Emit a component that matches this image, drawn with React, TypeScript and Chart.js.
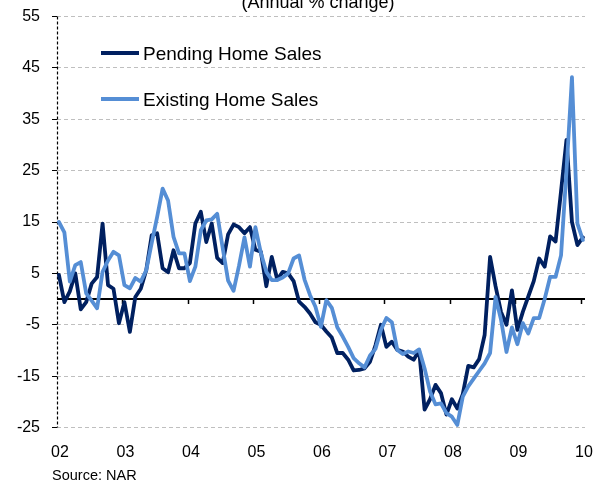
import React, { useEffect, useRef } from 'react';
import { Chart, registerables } from 'chart.js';

Chart.register(...registerables);

// Year tick labels (one tick every 12 months, starting Jan 2002)
const yearLabels = ['02', '03', '04', '05', '06', '07', '08', '09', '10'];
const yTickValues = [-25, -15, -5, 5, 15, 25, 35, 45, 55];

// Monthly annual % change, Jan 2002 .. Jan 2010
const pendingHomeSales = [
  4.7, -0.6, 1.5, 5, -2, -0.6, 3, 4.3, 14.7, 2.7, 2, -4.7,
  -0.6, -6.4, 0.4, 2, 5.6, 12.4, 12.8, 6, 5.2, 9.5, 6, 6,
  7, 14.7, 17, 11.1, 14.7, 8, 7, 12.6, 14.5, 14, 12.8, 14,
  9.6, 9.2, 2.5, 8.2, 3.8, 5.3, 5, 3.5, -0.5, -1.5, -2.8, -4.5,
  -5, -6.3, -7.5, -10.5, -10.5, -11.8, -13.9, -13.8, -13.5, -12.2, -9, -5,
  -9.3, -8.3, -9.9, -10.2, -11.2, -11.8, -10, -21.5, -19.5, -16.7, -18.3, -22.5,
  -19.5, -21.3, -18.5, -13, -13.3, -11.7, -7, 8.2, 2.5, -2.5, -5, 1.7,
  -6, -2.5, 0.5, 3.5, 7.9, 6.3, 12.2, 11.2, 21, 31, 15, 10.5,
  12,
];

const existingHomeSales = [
  15, 13, 3.4, 6.6, 7.2, 1.1, -0.3, -1.8, 5.3, 7.5, 9.2, 8.5,
  2.7, 2.1, 4.1, 3.4, 5.6, 10.9, 16, 21.5, 19.2, 12.1, 8.9, 8.9,
  3.5, 6.3, 13.4, 15.3, 15.5, 16.6, 10, 3.6, 1.6, 6.5, 12, 6.3,
  14, 9, 5.3, 3.7, 3.7, 4.2, 5, 7.9, 8.5, 3.8, 0.8, -1.5,
  -5.4, -0.2, -1.7, -5.5, -7.3, -9.3, -11.5, -12.5, -13.3, -11, -9.7, -6,
  -3.7, -4.5, -9.9, -10.7, -10.2, -10.5, -9.8, -13.5, -18, -20.5, -20.3, -22.2,
  -22.9, -24.5, -19, -17, -15.5, -14, -12.5, -10.5, 0.4, -4, -10.3, -5.5,
  -8.8, -4.7, -6.7, -3.7, -3.7, 0, 4.3, 4.3, 8.5, 25, 43.2, 14.7,
  11.5,
];

const seriesNames = ['Pending Home Sales', 'Existing Home Sales'];
const seriesColors = ['#002060', '#558ed5'];
const titleText = '(Annual % change)';
const sourceText = 'Source: NAR';

const FONT = '"Liberation Sans", Arial, sans-serif';
const MONTH_SHIFT = 0.35;

export default function App() {
  const ref = useRef<HTMLCanvasElement>(null);

  useEffect(() => {
    if (!ref.current) return;
    const toPoints = (arr: number[]) => arr.map((v, i) => ({ x: i + MONTH_SHIFT, y: v }));
    const yearTickValues = yearLabels.map((_, k) => k * 12);

    const overlay = {
      id: 'overlay',
      beforeDatasetsDraw(chart: any) {
        const { ctx, chartArea: a, scales } = chart;
        const x = scales.x;
        const y = scales.y;
        ctx.save();
        // dashed vertical axis
        ctx.strokeStyle = '#000';
        ctx.lineWidth = 1.2;
        ctx.setLineDash([3, 2]);
        ctx.beginPath();
        ctx.moveTo(a.left + 0.5, a.top);
        ctx.lineTo(a.left + 0.5, a.bottom);
        ctx.stroke();
        ctx.setLineDash([]);
        // zero line
        const y0 = Math.round(y.getPixelForValue(0));
        ctx.lineWidth = 2;
        ctx.beginPath();
        ctx.moveTo(a.left, y0);
        ctx.lineTo(a.right, y0);
        ctx.stroke();
        // year tick marks on zero line
        ctx.lineWidth = 1.5;
        yearTickValues.forEach((v, k) => {
          if (k === 0) return;
          const px = Math.round(x.getPixelForValue(v)) + 0.5;
          ctx.beginPath();
          ctx.moveTo(px, y0);
          ctx.lineTo(px, y0 + 5);
          ctx.stroke();
        });
        ctx.restore();
      },
      afterDraw(chart: any) {
        const { ctx, chartArea: a } = chart;
        ctx.save();
        ctx.fillStyle = '#000';
        // title (partly cut at top)
        ctx.font = `18px ${FONT}`;
        ctx.textAlign = 'center';
        ctx.textBaseline = 'alphabetic';
        ctx.fillText(titleText, 318, 8);
        // legend
        ctx.textAlign = 'left';
        ctx.font = `19px ${FONT}`;
        const legendRows = [60, 106];
        seriesNames.forEach((name, k) => {
          const base = legendRows[k];
          ctx.strokeStyle = seriesColors[k];
          ctx.lineWidth = 4;
          ctx.beginPath();
          ctx.moveTo(a.left + 44, base - 7);
          ctx.lineTo(a.left + 82, base - 7);
          ctx.stroke();
          ctx.fillStyle = '#000';
          ctx.fillText(name, a.left + 86, base);
        });
        // source
        ctx.font = `14.5px ${FONT}`;
        ctx.fillText(sourceText, 52, 480);
        ctx.restore();
      },
    };

    const chart = new Chart(ref.current, {
      type: 'line',
      data: {
        datasets: [
          {
            label: seriesNames[0],
            data: toPoints(pendingHomeSales),
            borderColor: seriesColors[0],
            backgroundColor: seriesColors[0],
            borderWidth: 3.8,
            pointRadius: 0,
            tension: 0,
            borderJoinStyle: 'round',
            borderCapStyle: 'round',
            order: 2,
          },
          {
            label: seriesNames[1],
            data: toPoints(existingHomeSales),
            borderColor: seriesColors[1],
            backgroundColor: seriesColors[1],
            borderWidth: 3.8,
            pointRadius: 0,
            tension: 0,
            borderJoinStyle: 'round',
            borderCapStyle: 'round',
            order: 1,
          },
        ],
      },
      options: {
        responsive: false,
        animation: false,
        devicePixelRatio: 1,
        layout: { padding: { top: 16.5, right: 13, left: 0, bottom: 0 } },
        plugins: {
          legend: { display: false },
          tooltip: { enabled: false },
          title: { display: false },
        },
        scales: {
          x: {
            type: 'linear',
            min: 0,
            max: 96.74,
            afterFit: (s: any) => {
              s.height = 57.5;
              s.paddingLeft = 0;
              s.paddingRight = 0;
            },
            afterBuildTicks: (s: any) => {
              s.ticks = yearTickValues.map((v) => ({ value: v }));
            },
            grid: { display: false, drawTicks: false },
            border: { display: false },
            ticks: {
              padding: 15,
              labelOffset: 3,
              maxRotation: 0,
              autoSkip: false,
              color: '#000',
              font: { family: FONT, size: 16 },
              callback: (v: any) => yearLabels[Math.round(Number(v) / 12)] ?? '',
            },
          },
          y: {
            min: -25,
            max: 55,
            afterFit: (s: any) => {
              s.width = 57;
              s.paddingTop = 0;
              s.paddingBottom = 0;
            },
            afterBuildTicks: (s: any) => {
              s.ticks = yTickValues.map((v) => ({ value: v }));
            },
            grid: {
              color: '#bfbfbf',
              lineWidth: 1,
              drawTicks: true,
              tickLength: 5,
              tickColor: '#000',
              tickWidth: 1,
            },
            border: { display: false, dash: [4, 3] },
            ticks: {
              padding: 12,
              color: '#000',
              font: { family: FONT, size: 16 },
              callback: (v: any) => String(v),
            },
          },
        },
      },
      plugins: [overlay],
    } as any);

    return () => chart.destroy();
  }, []);

  return (
    <div style={{ position: 'fixed', left: 0, top: 0, width: 598, height: 485, background: '#fff' }}>
      <canvas ref={ref} width={598} height={485} style={{ display: 'block' }} />
    </div>
  );
}
